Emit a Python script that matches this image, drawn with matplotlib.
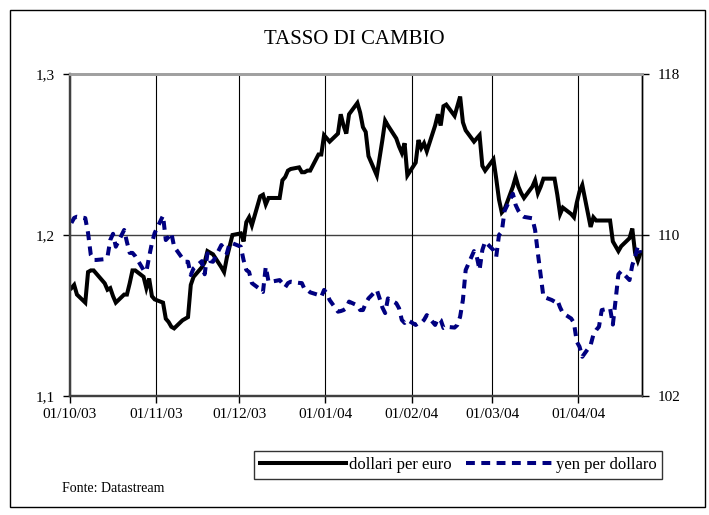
#!/usr/bin/env python3

import matplotlib
matplotlib.use('Agg')
import matplotlib.pyplot as plt
import matplotlib.dates as mdates
from matplotlib.patches import Rectangle
import numpy as np
import pandas as pd

# ======================================================================
# Data: business days 01/10/03 - 23/04/04.
# ======================================================================

dates = pd.bdate_range('2003-10-01', '2004-04-23')

eur_usd = [
    # Oct 03
    1.167, 1.169, 1.163, 1.158, 1.177, 1.178, 1.178, 1.176, 1.170, 1.166,
    1.167, 1.162, 1.158, 1.163, 1.163, 1.170, 1.178, 1.178, 1.174, 1.167,
    1.173, 1.162, 1.160,
    # Nov 03
    1.158, 1.148, 1.146, 1.143, 1.142, 1.147, 1.148, 1.149, 1.169, 1.174,
    1.180, 1.183, 1.190, 1.189, 1.188, 1.180, 1.177, 1.186, 1.193, 1.200,
    # Dec 03
    1.201, 1.196, 1.208, 1.211, 1.206, 1.224, 1.225, 1.219, 1.223, 1.223,
    1.223, 1.234, 1.236, 1.240, 1.241, 1.242, 1.239, 1.239, 1.240, 1.240,
    1.250, 1.250, 1.262,
    # Jan 04
    1.260, 1.258, 1.263, 1.275, 1.268, 1.263, 1.275, 1.282, 1.276, 1.267,
    1.264, 1.249, 1.237, 1.248, 1.259, 1.271, 1.268, 1.260, 1.255, 1.251,
    1.257, 1.237,
    # Feb 04
    1.245, 1.259, 1.254, 1.257, 1.252, 1.268, 1.275, 1.268, 1.280, 1.281,
    1.274, 1.280, 1.286, 1.270, 1.265, 1.258, 1.260, 1.262, 1.243, 1.240,
    # Mar 04
    1.247, 1.235, 1.222, 1.214, 1.216, 1.230, 1.236, 1.230, 1.226, 1.223,
    1.230, 1.234, 1.226, 1.230, 1.235, 1.235, 1.235, 1.225, 1.213, 1.217,
    1.213, 1.211, 1.220,
    # Apr 04
    1.227, 1.231, 1.205, 1.211, 1.209, 1.209, 1.209, 1.209, 1.196, 1.193,
    1.190, 1.193, 1.198, 1.204, 1.189, 1.184, 1.189,
]

usd_jpy = [
    # Oct 03
    110.60, 110.85, 110.91, 110.84, 110.10, 109.00, 108.76, 108.76, 108.80, 108.91,
    109.75, 110.06, 109.42, 110.25, 109.65, 109.11, 109.11, 108.95, 108.26, 108.18,
    108.92, 109.60, 110.10,
    # Nov 03
    110.96, 109.75, 109.90, 110.10, 109.42, 108.84, 108.67, 108.67, 108.01, 108.34,
    108.70, 108.05, 109.09, 108.70, 108.67, 109.50, 109.30, 109.09, 109.59, 109.59,
    # Dec 03
    109.42, 108.76, 108.26, 108.16, 107.61, 107.30, 107.17, 108.42, 107.68, 107.68,
    107.76, 107.60, 107.40, 107.61, 107.68, 107.62, 107.61, 107.30, 107.27, 107.15,
    107.02, 106.93, 107.27,
    # Jan 04
    107.10, 106.77, 106.19, 106.22, 106.27, 106.36, 106.69, 106.50, 106.27, 106.27,
    106.60, 106.85, 107.27, 106.85, 106.40, 106.12, 106.85, 106.61, 106.36, 105.78,
    105.63, 105.78,
    # Feb 04
    105.53, 105.63, 105.63, 105.78, 106.02, 105.53, 105.86, 105.78, 105.38, 105.44,
    105.40, 105.53, 105.94, 106.77, 108.26, 109.20, 108.92, 108.26, 109.25, 109.67,
    # Mar 04
    109.25, 108.92, 110.00, 110.16, 111.20, 112.05, 111.49, 111.20, 111.00, 110.90,
    110.83, 110.25, 109.09, 108.00, 106.93, 106.77, 106.69, 106.77, 106.40, 106.12,
    105.85, 105.63, 104.70,
    # Apr 04
    104.45, 103.95, 104.53, 105.05, 105.28, 105.44, 106.27, 106.36, 105.55, 106.77,
    108.05, 108.20, 107.76, 108.50, 108.90, 109.45, 109.10,
]

left_ticks = [1.1, 1.2, 1.3]
left_labels = ['1,1', '1,2', '1,3']
right_ticks = [102, 110, 118]
right_labels = ['102', '110', '118']

title = 'TASSO DI CAMBIO'
label_eur = 'dollari per euro'
label_jpy = 'yen per dollaro'
source = 'Fonte: Datastream'

# ======================================================================
# Plot.
# ======================================================================

plt.rcParams['font.family'] = ['Liberation Serif', 'DejaVu Serif']

fig = plt.figure(figsize=(7.09, 5.15), dpi=100)
ax = fig.add_axes([70 / 709, 1 - 396 / 515, 572 / 709, 322 / 515])
ax2 = ax.twinx()

# points sit in the middle of each daily slot (Excel date axis)
x = dates + pd.Timedelta(hours=12)

l1, = ax.plot(x, eur_usd, color='black', lw=2.9, solid_joinstyle='miter',
              label=label_eur)
l2, = ax2.plot(x, usd_jpy, color='#000080', lw=2.9, dashes=(2.2, 1.6),
               dash_capstyle='butt', label=label_jpy)

ax.set_xlim(pd.Timestamp('2003-10-01'), pd.Timestamp('2004-04-24'))
ax.set_ylim(1.1, 1.3)
ax2.set_ylim(102, 118)

ax.xaxis.set_major_locator(mdates.MonthLocator())
ax.xaxis.set_major_formatter(mdates.DateFormatter('%d/%m/%y'))
ax.set_yticks(left_ticks)
ax.set_yticklabels(left_labels)
ax2.set_yticks(right_ticks)
ax2.set_yticklabels(right_labels)

ax.grid(axis='x', color='black', lw=0.8)
ax.axhline(1.2, color='#404040', lw=1.0, zorder=1)

for a in (ax, ax2):
    a.tick_params(direction='out', length=5, width=1, labelsize=11,
                  color='black')
    a.spines['top'].set_color('#a0a0a0')
    a.spines['top'].set_linewidth(2)
    a.spines['left'].set_color('#404040')
    a.spines['left'].set_linewidth(1.6)
    a.spines['bottom'].set_color('#404040')
    a.spines['bottom'].set_linewidth(1.6)
    a.spines['right'].set_color('black')
    a.spines['right'].set_linewidth(1.0)
ax.tick_params(axis='x', pad=4)
ax.tick_params(axis='y', pad=6)
ax2.tick_params(axis='y', pad=6)

fig.text(0.5, 1 - 40 / 515, title, ha='center', va='center', fontsize=15)
fig.text(62 / 709, 1 - 488 / 515, source, ha='left', va='center',
         fontsize=10)

leg = fig.legend([l1, l2], [label_eur, label_jpy], loc='center',
                 bbox_to_anchor=(458 / 709, 1 - 465 / 515), ncol=2,
                 fontsize=12, handlelength=5.2, handletextpad=0.15,
                 columnspacing=0.9, fancybox=False, borderpad=0.35,
                 borderaxespad=0)
leg.get_frame().set_edgecolor('black')
leg.get_frame().set_linewidth(1.0)

# outer chart frame
fig.patches.append(Rectangle((10 / 709, 8 / 515), 695 / 709, 497 / 515,
                             transform=fig.transFigure, fill=False,
                             edgecolor='black', lw=1.0))

fig.savefig('out.png', dpi=100)
plt.close()
